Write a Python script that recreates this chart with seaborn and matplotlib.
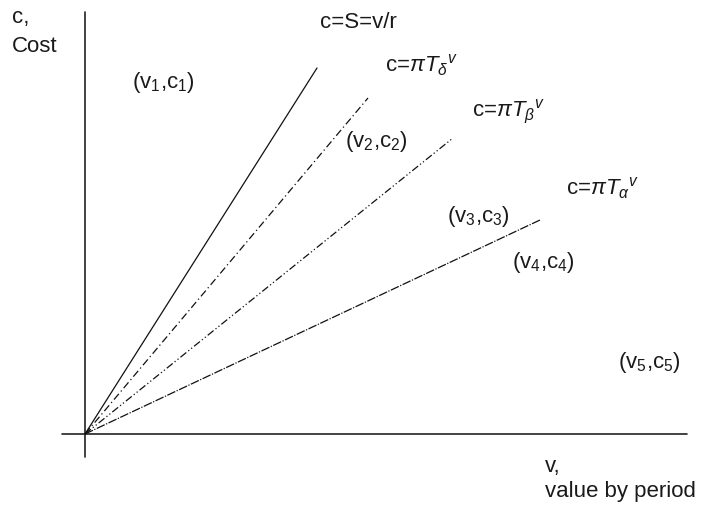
import matplotlib
matplotlib.use("Agg")
import matplotlib.pyplot as plt
import seaborn as sns
import pandas as pd

# ---- data (value v, cost c), origin at (0, 0) ----
line_names = ["S", "delta", "beta", "alpha"]
line_end_v = [232, 283, 368, 455]
line_end_c = [366, 336, 296, 214]

line_labels = ["c=S=v/r",
               r"c=$\mathit{\pi T}_{\delta}{}^{v}$",
               r"c=$\mathit{\pi T}_{\beta}{}^{v}$",
               r"c=$\mathit{\pi T}_{\alpha}{}^{v}$"]
line_label_v = [235, 300, 387, 481]
line_label_c = [406, 362, 317, 239]

point_labels = [r"(v$_1$,c$_1$)", r"(v$_2$,c$_2$)",
                r"(v$_3$,c$_3$)", r"(v$_4$,c$_4$)",
                r"(v$_5$,c$_5$)"]
point_v = [47, 260, 362, 427, 533]
point_c = [346, 287, 212, 166, 66]

x_axis_label = ["v,", "value by period"]
y_axis_label = ["c,", "Cost"]

# ---- style ----
sns.set_theme(style="white")
plt.rcParams["font.family"] = ["Liberation Sans", "DejaVu Sans"]
plt.rcParams["mathtext.fontset"] = "custom"
plt.rcParams["mathtext.rm"] = "Liberation Sans"
plt.rcParams["mathtext.it"] = "Liberation Sans:italic"
plt.rcParams["mathtext.bf"] = "Liberation Sans:bold"

dash_styles = {"S": "-",
               "delta": (0, (6, 2.5, 1, 2.5)),
               "beta": (0, (6, 2, 1, 2, 1, 2)),
               "alpha": (0, (7, 1.2, 1, 1.2))}

fig = plt.figure(figsize=(7.04, 5.07), dpi=100)
ax = fig.add_axes([0, 0, 1, 1])
ax.set_xlim(-85, 619)
ax.set_ylim(-73, 434)
ax.axis("off")

# coordinate axes
ax.plot([-23, 602], [0, 0], color="#222222", lw=1.2)
ax.plot([0, 0], [-23, 422], color="#222222", lw=1.2)

rows = []
for n, v, c in zip(line_names, line_end_v, line_end_c):
    rows.append({"name": n, "v": 0, "c": 0})
    rows.append({"name": n, "v": v, "c": c})
df = pd.DataFrame(rows)

for n in line_names:
    sub = df[df["name"] == n]
    sns.lineplot(data=sub, x="v", y="c", ax=ax, color="#111111", lw=0.9,
                 linestyle=dash_styles[n], sort=False, estimator=None)

tc = "#1a1a1a"
fs = 16
for lab, v, c in zip(line_labels, line_label_v, line_label_c):
    ax.text(v, c, lab, fontsize=fs, color=tc, ha="left", va="baseline")
for lab, v, c in zip(point_labels, point_v, point_c):
    ax.text(v, c, lab, fontsize=fs, color=tc, ha="left", va="baseline")

ax.text(-73, 411, y_axis_label[0], fontsize=fs, color=tc, ha="left", va="baseline")
ax.text(-73, 382, y_axis_label[1], fontsize=fs, color=tc, ha="left", va="baseline")
ax.text(460, -38, x_axis_label[0], fontsize=fs, color=tc, ha="left", va="baseline")
ax.text(460, -63, x_axis_label[1], fontsize=fs, color=tc, ha="left", va="baseline")

fig.savefig("out.png", dpi=100)
